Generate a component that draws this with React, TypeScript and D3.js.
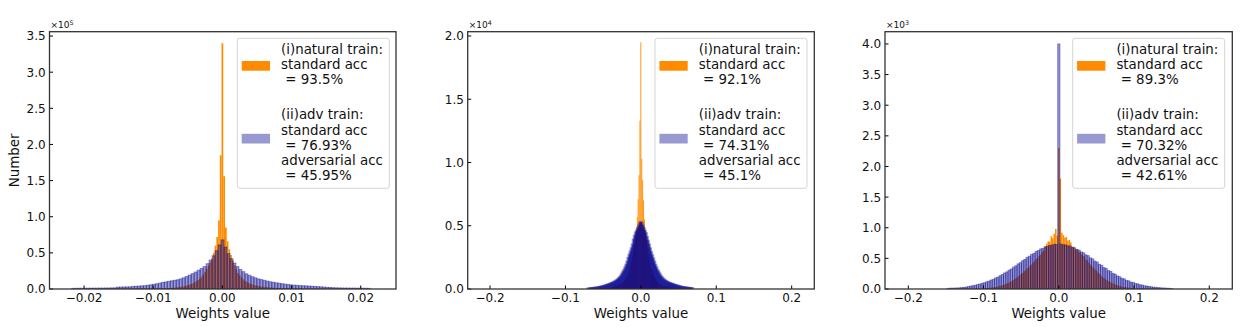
import React from 'react';
import * as d3 from 'd3';

// ---------- Panel 1 (y axis ×10^5) ----------
// blue = adversarially trained, counts in thousands
const p1BlueStart = -0.0218;
const p1BlueWidth = 0.000432;
const p1Blue = [
  0.9, 0.9, 1.0, 1.0, 1.0, 1.1, 1.1, 1.1, 1.2, 1.2,
  1.3, 1.3, 1.4, 1.5, 1.6, 2.6, 2.7, 2.8, 2.9, 3.0,
  3.5, 3.8, 4.0, 4.3, 4.6, 5.2, 5.8, 6.5, 7.2, 8.1,
  9.0, 9.8, 10.6, 11.3, 12.0, 12.8, 14.0, 15.5, 17.3, 19.3,
  21.3, 23.5, 26.0, 28.5, 31.0, 35.0, 40.0, 46.0, 53.0, 61.0,
  68.0, 58.0, 49.0, 42.0, 36.0, 31.0, 27.0, 24.0, 21.0, 19.0,
  17.0, 15.5, 14.0, 13.0, 12.0, 11.0, 10.0, 9.3, 8.6, 8.0,
  7.3, 6.7, 6.2, 5.7, 5.3, 5.0, 4.7, 4.5, 4.3, 4.1,
  3.8, 3.5, 3.2, 3.0, 2.6, 2.3, 2.0, 1.8, 1.6, 1.5,
  1.4, 1.3, 1.3, 1.2, 1.2, 1.1, 1.1, 1.0, 1.0, 0.9,
];
// orange = naturally trained, counts in thousands
const p1OrangeStart = -0.012625;
const p1OrangeWidth = 0.00025;
const p1Orange = [
  0.3, 0.3, 0.3, 0.3, 0.4, 0.4, 0.4, 0.4, 0.5, 0.5,
  0.5, 0.6, 0.6, 0.7, 0.7, 0.8, 0.9, 1.0, 1.1, 1.2,
  1.4, 1.6, 1.8, 2.0, 2.3, 2.6, 3.0, 3.4, 3.9, 4.5,
  5.2, 6.0, 7.0, 8.0, 9.5, 11, 12.5, 14.5, 17, 20,
  24, 28, 32, 37, 42, 50, 60, 72, 95, 185,
  340, 156, 85, 66, 55, 47, 40, 33, 27, 22,
  19, 16, 13.5, 11.5, 10, 8.5, 7.5, 6.5, 5.8, 5.2,
  4.6, 4.1, 3.7, 3.3, 3.0, 2.7, 2.4, 2.2, 2.0, 1.8,
  1.6, 1.5, 1.3, 1.2, 1.1, 1.0, 0.9, 0.8, 0.7, 0.7,
  0.6, 0.6, 0.5, 0.5, 0.5, 0.4, 0.4, 0.4, 0.3, 0.3,
];

// ---------- Panel 2 (y axis ×10^4) ----------
// counts in hundreds
const p2BlueStart = -0.0707;
const p2BlueWidth = 0.0014;
const p2Blue = [
  0.2, 0.3, 0.4, 0.5, 0.6, 0.7, 0.8, 0.9, 1.0, 1.15,
  1.3, 1.5, 1.7, 1.9, 2.1, 2.4, 2.6, 2.9, 3.2, 3.5,
  3.8, 4.2, 4.5, 4.9, 5.3, 5.8, 6.3, 6.9, 7.6, 8.4,
  9.3, 10.5, 12, 13.5, 15, 17, 19, 21.5, 24.5, 27,
  29.5, 32, 35, 39, 42, 44.5, 46, 48, 50, 52,
  53, 52, 50, 48, 46, 44, 41, 38, 35, 32,
  29, 26.5, 24, 21.5, 19, 17, 15, 13.5, 12, 10.5,
  9.3, 8.3, 7.5, 6.8, 6.2, 5.7, 5.2, 4.8, 4.5, 4.2,
  3.9, 3.6, 3.3, 3.0, 2.7, 2.5, 2.3, 2.0, 1.8, 1.6,
  1.4, 1.25, 1.1, 1.0, 0.9, 0.8, 0.7, 0.6, 0.5, 0.45,
];
const p2OrangeStart = -0.0606;
const p2OrangeWidth = 0.0012;
const p2Orange = [
  0.1, 0.1, 0.15, 0.15, 0.2, 0.2, 0.25, 0.3, 0.35, 0.4,
  0.5, 0.55, 0.6, 0.7, 0.8, 0.9, 1.0, 1.1, 1.3, 1.45,
  1.6, 1.8, 2.0, 2.3, 2.6, 2.9, 3.3, 3.7, 4.1, 4.5,
  5, 5.8, 6.7, 7.8, 9, 10.5, 12, 14, 16.5, 19,
  22, 26, 30, 35, 41, 48, 57, 71, 90, 133,
  195, 103, 86, 70, 55, 46, 39, 33, 28, 24,
  20.5, 17.5, 15, 13, 11, 9.5, 8.2, 7, 6, 5.2,
  4.5, 4.0, 3.6, 3.2, 2.9, 2.6, 2.3, 2.0, 1.8, 1.6,
  1.4, 1.25, 1.1, 1.0, 0.9, 0.8, 0.7, 0.6, 0.5, 0.45,
  0.4, 0.35, 0.3, 0.25, 0.2, 0.2, 0.15, 0.15, 0.1, 0.1,
];

// ---------- Panel 3 (y axis ×10^3) ----------
// counts in thousands
const p3BlueStart = -0.1485;
const p3BlueWidth = 0.003;
const p3Blue = [
  0.010, 0.012, 0.013, 0.015, 0.016, 0.019, 0.022, 0.026, 0.031, 0.040,
  0.047, 0.055, 0.061, 0.072, 0.080, 0.093, 0.101, 0.117, 0.128, 0.146,
  0.158, 0.180, 0.194, 0.218, 0.236, 0.262, 0.280, 0.308, 0.327, 0.357,
  0.379, 0.411, 0.430, 0.462, 0.484, 0.517, 0.535, 0.566, 0.583, 0.614,
  0.628, 0.655, 0.664, 0.688, 0.695, 0.712, 0.716, 0.731, 0.725, 4.0,
  0.733, 0.722, 0.720, 0.705, 0.702, 0.680, 0.672, 0.646, 0.636, 0.605,
  0.592, 0.558, 0.545, 0.508, 0.492, 0.455, 0.440, 0.402, 0.387, 0.350,
  0.335, 0.300, 0.288, 0.254, 0.242, 0.212, 0.200, 0.174, 0.165, 0.140,
  0.133, 0.112, 0.106, 0.089, 0.083, 0.069, 0.064, 0.052, 0.049, 0.040,
  0.036, 0.029, 0.027, 0.022, 0.020, 0.016, 0.015, 0.012, 0.010, 0.008,
];
const p3OrangeStart = -0.099;
const p3OrangeWidth = 0.002;
const p3Orange = [
  0.013, 0.016, 0.015, 0.019, 0.022, 0.025, 0.030, 0.031, 0.038, 0.045,
  0.052, 0.060, 0.063, 0.077, 0.082, 0.098, 0.104, 0.122, 0.132, 0.150,
  0.170, 0.183, 0.205, 0.225, 0.248, 0.262, 0.290, 0.305, 0.335, 0.350,
  0.380, 0.400, 0.435, 0.455, 0.490, 0.510, 0.545, 0.560, 0.600, 0.625,
  0.700, 0.740, 0.780, 0.770, 0.860, 0.830, 0.900, 0.980, 0.870, 2.30,
  1.80, 0.920, 0.880, 0.840, 0.850, 0.790, 0.800, 0.760, 0.690, 0.690,
  0.640, 0.650, 0.610, 0.600, 0.570, 0.540, 0.530, 0.480, 0.470, 0.430,
  0.400, 0.370, 0.350, 0.320, 0.300, 0.270, 0.250, 0.220, 0.200, 0.180,
  0.160, 0.145, 0.128, 0.115, 0.101, 0.090, 0.078, 0.070, 0.060, 0.053,
  0.046, 0.040, 0.035, 0.030, 0.026, 0.022, 0.019, 0.016, 0.013, 0.011,
];

// ---------- Ticks ----------
const p1XTicks = [-0.02, -0.01, 0, 0.01, 0.02];
const p1XLabels = ['\u22120.02', '\u22120.01', '0.00', '0.01', '0.02'];
const p23XTicks = [-0.2, -0.1, 0, 0.1, 0.2];
const p23XLabels = ['\u22120.2', '\u22120.1', '0.0', '0.1', '0.2'];
const p1YTicks = [0, 0.5, 1, 1.5, 2, 2.5, 3, 3.5];
const p1YLabels = ['0.0', '0.5', '1.0', '1.5', '2.0', '2.5', '3.0', '3.5'];
const p2YTicks = [0, 0.5, 1, 1.5, 2];
const p2YLabels = ['0.0', '0.5', '1.0', '1.5', '2.0'];
const p3YTicks = [0, 0.5, 1, 1.5, 2, 2.5, 3, 3.5, 4];
const p3YLabels = ['0.0', '0.5', '1.0', '1.5', '2.0', '2.5', '3.0', '3.5', '4.0'];

// ---------- Legend texts ----------
const p1Legend1 = ['(i)natural train:', 'standard acc', ' = 93.5%'];
const p1Legend2 = ['(ii)adv train:', 'standard acc', ' = 76.93%', 'adversarial acc', ' = 45.95%'];
const p2Legend1 = ['(i)natural train:', 'standard acc', ' = 92.1%'];
const p2Legend2 = ['(ii)adv train:', 'standard acc', ' = 74.31%', 'adversarial acc', ' = 45.1%'];
const p3Legend1 = ['(i)natural train:', 'standard acc', ' = 89.3%'];
const p3Legend2 = ['(ii)adv train:', 'standard acc', ' = 70.32%', 'adversarial acc', ' = 42.61%'];

const ORANGE = '#ff8c00';
const BLUE = '#00008b';
const FONT = 'DejaVu Sans, Liberation Sans, sans-serif';

type Series = { start: number; width: number; values: number[]; unit: number };

type PanelProps = {
  id: string;
  left: number; right: number; top: number; bottom: number;
  xDomain: [number, number];
  yMax: number;
  exponent: number;
  orange: Series;
  blue: Series;
  blueEdge: number;
  xTicks: number[]; xLabels: string[];
  yTicks: number[]; yLabels: string[];
  legend1: string[]; legend2: string[];
  legendLeft: number;
  showYLabel?: boolean;
};

function Panel(p: PanelProps) {
  const x = d3.scaleLinear().domain(p.xDomain).range([p.left, p.right]);
  const y = d3.scaleLinear().domain([0, p.yMax]).range([p.bottom, p.top]);
  const scale = Math.pow(10, p.exponent);
  const bars = (s: Series) =>
    s.values.map((v, i) => {
      const x0 = x(s.start + i * s.width);
      const x1 = x(s.start + (i + 1) * s.width);
      const yv = y((v * s.unit) / scale);
      return { x: x0, w: x1 - x0, y: yv, h: y(0) - yv };
    });
  const ob = bars(p.orange);
  const bb = bars(p.blue);
  const lx = p.legendLeft;
  const ly = 38.3;
  const lineStep = 15.1;
  return (
    <g fontFamily={FONT}>
      <defs>
        <clipPath id={p.id}>
          <rect x={p.left} y={p.top} width={p.right - p.left} height={p.bottom - p.top} />
        </clipPath>
      </defs>
      <g clipPath={`url(#${p.id})`}>
        {ob.map((b, i) => (
          <rect key={'o' + i} x={b.x} y={b.y} width={b.w} height={b.h} fill={ORANGE} />
        ))}
        {bb.map((b, i) => (
          <rect key={'b' + i} x={b.x} y={b.y} width={b.w} height={b.h}
            fill={BLUE} fillOpacity={0.4} stroke={BLUE} strokeOpacity={0.4} strokeWidth={p.blueEdge} />
        ))}
      </g>
      {/* ticks */}
      {p.xTicks.map((t, i) => (
        <g key={'xt' + i}>
          <line x1={x(t)} x2={x(t)} y1={p.bottom} y2={p.bottom - 3.5} stroke="#000" strokeWidth={1} />
          <text x={x(t)} y={302.2} fontSize={12} textAnchor="middle" fill="#111">{p.xLabels[i]}</text>
        </g>
      ))}
      {p.yTicks.map((t, i) => (
        <g key={'yt' + i}>
          <line x1={p.left} x2={p.left + 3.5} y1={y(t)} y2={y(t)} stroke="#000" strokeWidth={1} />
          <text x={p.left - 3.8} y={y(t) + 4.4} fontSize={12} textAnchor="end" fill="#111">{p.yLabels[i]}</text>
        </g>
      ))}
      {/* frame */}
      <rect x={p.left} y={p.top} width={p.right - p.left} height={p.bottom - p.top}
        fill="none" stroke="#333" strokeWidth={1.3} />
      {/* offset text */}
      <text x={p.left + 1} y={28.4} fontSize={9} fill="#111">
        {'\u00d710'}
        <tspan fontSize={6.3} dy={-3.6}>{String(p.exponent)}</tspan>
      </text>
      {/* x label */}
      <text x={(p.left + p.right) / 2} y={318} fontSize={13.4} textAnchor="middle" fill="#111">Weights value</text>
      {p.showYLabel && (
        <text transform={`translate(19.2, ${(p.top + p.bottom) / 2}) rotate(-90)`} fontSize={13.4}
          textAnchor="middle" fill="#111">Number</text>
      )}
      {/* legend */}
      <rect x={lx} y={ly} width={152} height={150} rx={2.5} fill="#fff" fillOpacity={0.8}
        stroke="#d4d4d4" strokeWidth={1} />
      <rect x={lx + 4.4} y={61} width={28.3} height={9.7} fill={ORANGE} />
      <rect x={lx + 4.4} y={133.8} width={28.3} height={9.7} fill={BLUE} fillOpacity={0.4} />
      {p.legend1.map((s, i) => (
        <text key={'l1' + i} x={lx + 43.7} y={54 + i * lineStep} fontSize={13.4} fill="#111"
          style={{ whiteSpace: 'pre' }}>{s}</text>
      ))}
      {p.legend2.map((s, i) => (
        <text key={'l2' + i} x={lx + 43.7} y={119.4 + i * lineStep} fontSize={13.4} fill="#111"
          style={{ whiteSpace: 'pre' }}>{s}</text>
      ))}
    </g>
  );
}

export default function App() {
  return (
    <svg width={1245} height={327} style={{ position: 'absolute', left: 0, top: 0, background: '#fff' }}>
      <rect x={0} y={0} width={1245} height={327} fill="#fff" />
      <Panel id="c1" left={49.5} right={396} top={31.7} bottom={289}
        xDomain={[-0.025, 0.0251]} yMax={3.56} exponent={5}
        orange={{ start: p1OrangeStart, width: p1OrangeWidth, values: p1Orange, unit: 1e3 }}
        blue={{ start: p1BlueStart, width: p1BlueWidth, values: p1Blue, unit: 1e3 }}
        blueEdge={1.0}
        xTicks={p1XTicks} xLabels={p1XLabels} yTicks={p1YTicks} yLabels={p1YLabels}
        legend1={p1Legend1} legend2={p1Legend2} legendLeft={237.3} showYLabel />
      <Panel id="c2" left={467.7} right={814.3} top={31.7} bottom={289}
        xDomain={[-0.2296, 0.23]} yMax={2.034} exponent={4}
        orange={{ start: p2OrangeStart, width: p2OrangeWidth, values: p2Orange, unit: 1e2 }}
        blue={{ start: p2BlueStart, width: p2BlueWidth, values: p2Blue, unit: 1e2 }}
        blueEdge={2.4}
        xTicks={p23XTicks} xLabels={p23XLabels} yTicks={p2YTicks} yLabels={p2YLabels}
        legend1={p2Legend1} legend2={p2Legend2} legendLeft={655} />
      <Panel id="c3" left={885} right={1232.3} top={31.7} bottom={289}
        xDomain={[-0.231, 0.2306]} yMax={4.2} exponent={3}
        orange={{ start: p3OrangeStart, width: p3OrangeWidth, values: p3Orange, unit: 1e3 }}
        blue={{ start: p3BlueStart, width: p3BlueWidth, values: p3Blue, unit: 1e3 }}
        blueEdge={1.0}
        xTicks={p23XTicks} xLabels={p23XLabels} yTicks={p3YTicks} yLabels={p3YLabels}
        legend1={p3Legend1} legend2={p3Legend2} legendLeft={1072.7} />
    </svg>
  );
}
